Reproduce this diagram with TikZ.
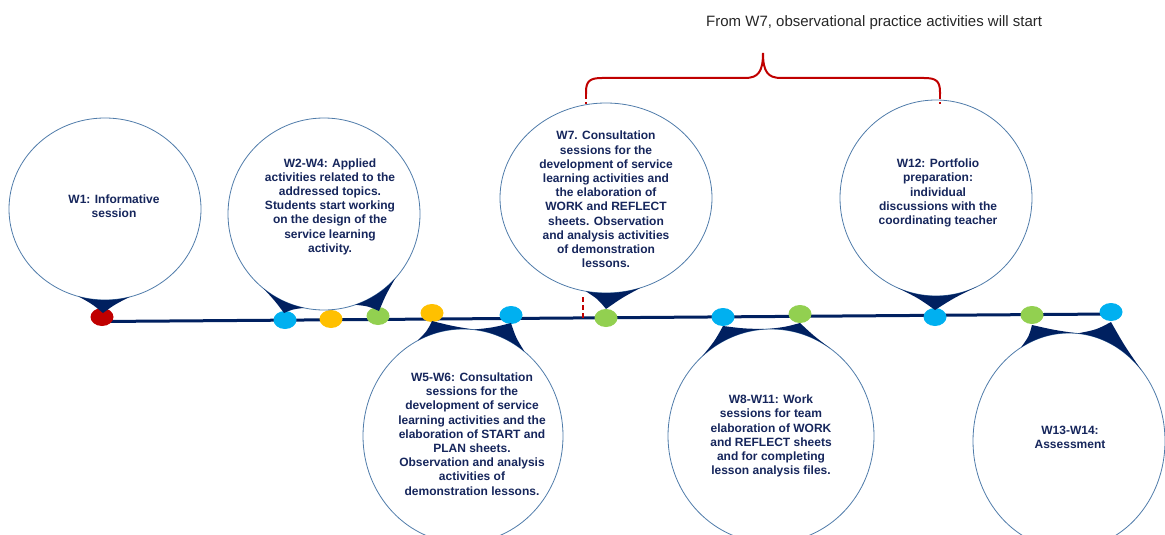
\documentclass[tikz,border=0pt]{standalone}
\usepackage{fontspec}
\setmainfont{Liberation Sans}
\usetikzlibrary{shapes.geometric,calc}
\definecolor{navy}{RGB}{0,32,96}
\definecolor{txtnavy}{RGB}{22,38,92}
\definecolor{bubblec}{RGB}{80,124,170}
\definecolor{brred}{RGB}{192,0,0}
\definecolor{dred}{RGB}{192,0,0}
\definecolor{dblue}{RGB}{0,176,240}
\definecolor{dyellow}{RGB}{255,192,0}
\definecolor{dgreen}{RGB}{146,208,80}
\definecolor{topgray}{RGB}{38,38,38}

\newcommand{\calltail}[6]{%
  \path (#1) ++(#4:#2 and #3) coordinate (tL);
  \path (#1) ++(#5:#2 and #3) coordinate (tR);
  \path (#1) ++({(#4+#5)/2}:#2 and #3) coordinate (tM);
  \fill[navy] (#6) .. controls ($(#6)!0.5!(tL)!0.12!(tM)$) .. (tL)
     arc[start angle=#4, end angle=#5, x radius=#2, y radius=#3]
     .. controls ($(#6)!0.5!(tR)!0.12!(tM)$) .. (#6) -- cycle;
}

\tikzset{
  bubble/.style={ellipse, draw=bubblec, line width=0.8pt, fill=white, inner sep=0pt},
  tdot/.style={ellipse, minimum width=23pt, minimum height=18pt, inner sep=0pt},
  lbl/.style={font=\fontsize{12}{14.2}\selectfont\bfseries, text=txtnavy, align=center, inner sep=0pt},
  timeline/.style={draw=navy, line width=3pt},
  brace/.style={draw=brred, line width=2pt},
  reddash/.style={draw=brred, line width=2.5pt, dash pattern=on 5pt off 3pt}
}

\begin{document}
\begin{tikzpicture}[x=1pt,y=-1pt]
\useasboundingbox (0,0) rectangle (1165,535);

% timeline
\coordinate (tl0) at (102,321.5);
\coordinate (tl1) at (1111,314);
\draw[timeline] (tl0) -- (tl1);

% dots
\node[tdot, fill=dred]    (d1)  at (102,317) {};
\node[tdot, fill=dblue]   (d2)  at (285,320) {};
\node[tdot, fill=dyellow] (d3)  at (331,319) {};
\node[tdot, fill=dgreen]  (d4)  at (378,316) {};
\node[tdot, fill=dyellow] (d5)  at (432,313) {};
\node[tdot, fill=dblue]   (d6)  at (511,315) {};
\node[tdot, fill=dgreen]  (d7)  at (606,318) {};
\node[tdot, fill=dblue]   (d8)  at (723,317) {};
\node[tdot, fill=dgreen]  (d9)  at (800,314) {};
\node[tdot, fill=dblue]   (d10) at (935,317) {};
\node[tdot, fill=dgreen]  (d11) at (1032,315) {};
\node[tdot, fill=dblue]   (d12) at (1111,312) {};

% bubbles
\node[bubble, minimum width=192pt, minimum height=182pt] (c1) at (105,209) {};
\node[bubble, minimum width=192pt, minimum height=192pt] (c2) at (324,214) {};
\node[bubble, minimum width=200pt, minimum height=214pt] (c3) at (463,436) {};
\node[bubble, minimum width=212pt, minimum height=190pt] (c4) at (606,198) {};
\node[bubble, minimum width=206pt, minimum height=214pt] (c5) at (771,436) {};
\node[bubble, minimum width=192pt, minimum height=196pt] (c6) at (936,198) {};
\node[bubble, minimum width=192pt, minimum height=216pt] (c7) at (1069,441) {};

% tails
\calltail{c1.center}{96}{91}{106}{75}{103,313}
\calltail{c2.center}{96}{96}{129}{102}{284,313}
\calltail{c2.center}{96}{96}{71}{42}{379,311}
\calltail{c3.center}{100}{107}{243}{276}{432,321}
\calltail{c3.center}{100}{107}{276}{308}{511,323}
\calltail{c4.center}{106}{95}{101}{71}{606,309}
\calltail{c5.center}{103}{107}{228}{268}{723,326}
\calltail{c5.center}{103}{107}{268}{305}{800,323}
\calltail{c6.center}{96}{98}{113}{65}{935,310}
\calltail{c7.center}{96}{108}{240}{275}{1032,325}
\calltail{c7.center}{96}{108}{275}{319}{1111,322}

% texts
\node[lbl] (t1) at (114,206) {W1: Informative\\session};
\node[lbl] (t2) at (330,206.5) {W2-W4: Applied\\activities related to the\\addressed topics.\\Students start working\\on the design of the\\service learning\\activity.};
\node[lbl] (t3) at (472,434) {W5-W6: Consultation\\sessions for the\\development of service\\learning activities and the\\elaboration of START and\\PLAN sheets.\\Observation and analysis\\activities of\\demonstration lessons.};
\node[lbl] (t4) at (606,199.5) {W7. Consultation\\sessions for the\\development of service\\learning activities and\\the elaboration of\\WORK and REFLECT\\sheets. Observation\\and analysis activities\\of demonstration\\lessons.};
\node[lbl] (t5) at (771,436) {W8-W11: Work\\sessions for team\\elaboration of WORK\\and REFLECT sheets\\and for completing\\lesson analysis files.};
\node[lbl] (t6) at (938,193) {W12: Portfolio\\preparation:\\individual\\discussions with the\\coordinating teacher};
\node[lbl] (t7) at (1070,437) {W13-W14:\\Assessment};

% brace
\coordinate (bl) at (586,94);
\coordinate (br) at (940,94);
\coordinate (btip) at (763,53);
\draw[brace] (bl) -- (586,92) .. controls (586,81) and (590,78) .. (602,78) -- (745,78)
  .. controls (758,78) and (763,72) .. (btip)
  .. controls (763,72) and (768,78) .. (781,78) -- (924,78)
  .. controls (936,78) and (940,81) .. (940,92) -- (br);
\coordinate (bld) at (586,104);
\coordinate (brd) at (940,104);
\draw[reddash] (bl) -- (bld);
\draw[reddash] (br) -- (brd);
\coordinate (w7a) at (583,297);
\coordinate (w7b) at (583,319);
\draw[reddash] (w7a) -- (w7b);

\node[font=\fontsize{15}{18}\selectfont, text=topgray, anchor=base west, inner sep=0pt] (top) at (706,26.5) {From W7, observational practice activities will start};
\end{tikzpicture}
\end{document}
